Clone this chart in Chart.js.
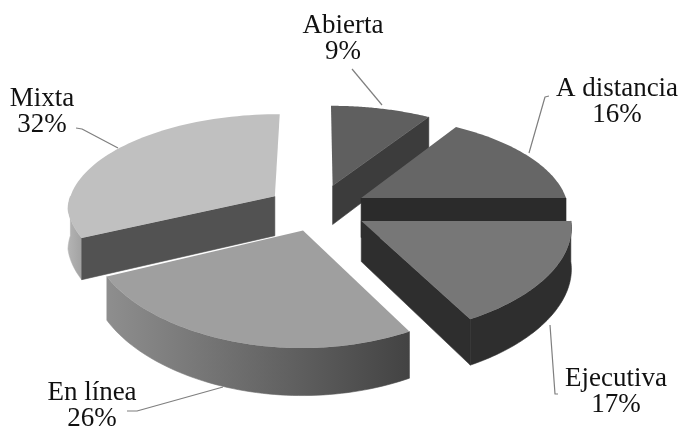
<!DOCTYPE html>
<html>
<head>
<meta charset="utf-8">
<style>
  html, body { margin: 0; padding: 0; background: #fff; }
  canvas { display: block; filter: blur(0.35px); }
</style>
<script src="https://cdn.jsdelivr.net/npm/chart.js@4/dist/chart.umd.min.js"></script>
</head>
<body>
<canvas id="pie" width="681" height="430"></canvas>
<script>
/* ── DATA ─────────────────────────────────────── */
const categories = ['Abierta', 'A distancia', 'Ejecutiva', 'En línea', 'Mixta'];
const shares     = [9, 16, 17, 26, 32];

/* ── STYLE ────────────────────────────────────── */
const topColors   = ['#5f5f5f', '#666666', '#777777', '#9f9f9f', '#c0c0c0'];
const faceColors  = ['#3c3c3c', '#2b2b2b', '#2e2e2e', '#4a4a4a', '#525252'];
const wallLeft    = ['#3c3c3c', '#2b2b2b', '#2e2e2e', '#8e8e8e', '#b4b4b4'];
const wallRight   = ['#3c3c3c', '#2b2b2b', '#2e2e2e', '#434343', '#a2a2a2'];
const explode     = [0.26, 0.24, 0.24, 0.23, 0.25];

// proyeccion del plato: centro, semiejes, perspectiva y grosor
const CX = 318, CY = 209, RX = 208, RY = 96, PERSP = 0.13, PERSP_FRONT_X = 0.06, DEPTH = 40;

const labelCenters = [343, 617, 616, 92, 42];
const labelBases   = [33, 96, 386, 400, 106];
const leaders = [
  [[352, 69], [382, 105]],
  [[549, 96], [545, 97], [529, 153]],
  [[550, 325], [555, 394], [558, 394]],
  [[127, 411], [137, 411], [223, 387]],
  [[76, 128], [82, 129], [118, 148]]
];

/* ── PROYECCION ───────────────────────────────── */
function project(X, Y, drop) {
  const s = 1 / (1 - PERSP * Y);
  const sx = Y > 0 ? 1 / (1 - PERSP_FRONT_X * Y) : s;
  return [CX + RX * X * sx, CY + RY * Y * s + drop * DEPTH * s];
}

function slicePoint(i, mid, theta, radius, drop) {
  const X = explode[i] * Math.sin(mid) + radius * Math.sin(theta);
  const Y = -explode[i] * Math.cos(mid) - radius * Math.cos(theta);
  return project(X, Y, drop);
}

function tracePoints(ctx, pts) {
  ctx.beginPath();
  pts.forEach((p, n) => n ? ctx.lineTo(p[0], p[1]) : ctx.moveTo(p[0], p[1]));
  ctx.closePath();
}

function arcPoints(i, mid, from, to, drop) {
  const pts = [];
  const steps = 60;
  for (let n = 0; n <= steps; n++) {
    pts.push(slicePoint(i, mid, from + (to - from) * n / steps, 1, drop));
  }
  return pts;
}

/* ── PLUGIN 3D ────────────────────────────────── */
const pie3d = {
  id: 'pie3d',
  beforeDatasetsDraw(chart) {
    const ctx = chart.ctx;
    const arcs = chart.getDatasetMeta(0).data.map((el, i) => {
      const a = el.getProps(['startAngle', 'endAngle'], true);
      const from = a.startAngle + Math.PI / 2;
      const to = a.endAngle + Math.PI / 2;
      return { i, from, to, mid: (from + to) / 2 };
    });

    ctx.save();
    ctx.lineWidth = 0.6;
    ctx.lineJoin = 'round';

    // paredes exteriores y caras de corte
    arcs.forEach(({ i, from, to, mid }) => {
      const wFrom = Math.max(from, Math.PI / 2);
      const wTo = Math.min(to, Math.PI * 3 / 2);
      if (wTo > wFrom) {
        const upper = arcPoints(i, mid, wFrom, wTo, 0);
        const lower = arcPoints(i, mid, wFrom, wTo, 1).reverse();
        const xs = upper.map(p => p[0]);
        const g = ctx.createLinearGradient(Math.min(...xs), 0, Math.max(...xs), 0);
        g.addColorStop(0, wallLeft[i]);
        g.addColorStop(1, wallRight[i]);
        tracePoints(ctx, upper.concat(lower));
        ctx.fillStyle = g;
        ctx.strokeStyle = g;
        ctx.fill();
        ctx.stroke();
      }
      [[from, -Math.sin(from)], [to, Math.sin(to)]].forEach(([edge, facing]) => {
        if (facing <= 0.01) return;
        tracePoints(ctx, [
          slicePoint(i, mid, edge, 0, 0),
          slicePoint(i, mid, edge, 1, 0),
          slicePoint(i, mid, edge, 1, 1),
          slicePoint(i, mid, edge, 0, 1)
        ]);
        ctx.fillStyle = faceColors[i];
        ctx.strokeStyle = faceColors[i];
        ctx.fill();
        ctx.stroke();
      });
    });

    // tapas
    arcs.forEach(({ i, from, to, mid }) => {
      tracePoints(ctx, [slicePoint(i, mid, from, 0, 0)].concat(arcPoints(i, mid, from, to, 0)));
      ctx.fillStyle = topColors[i];
      ctx.fill();
    });

    // lineas guia
    ctx.strokeStyle = '#7f7f7f';
    ctx.lineWidth = 1.2;
    leaders.forEach(line => {
      ctx.beginPath();
      line.forEach((p, n) => n ? ctx.lineTo(p[0], p[1]) : ctx.moveTo(p[0], p[1]));
      ctx.stroke();
    });

    // rotulos
    ctx.fillStyle = '#111';
    ctx.font = '27px "Liberation Serif"';
    ctx.textAlign = 'center';
    ctx.textBaseline = 'alphabetic';
    categories.forEach((name, i) => {
      ctx.fillText(name, labelCenters[i], labelBases[i]);
      ctx.fillText(shares[i] + '%', labelCenters[i], labelBases[i] + 26);
    });

    ctx.restore();
    return false; // el dibujo plano de Chart.js no hace falta
  }
};

/* ── CHART ────────────────────────────────────── */
new Chart(document.getElementById('pie'), {
  type: 'pie',
  data: {
    labels: categories,
    datasets: [{ data: shares, backgroundColor: topColors, borderWidth: 0 }]
  },
  options: {
    responsive: false,
    animation: false,
    plugins: { legend: { display: false }, tooltip: { enabled: false } }
  },
  plugins: [pie3d]
});
</script>
</body>
</html>
